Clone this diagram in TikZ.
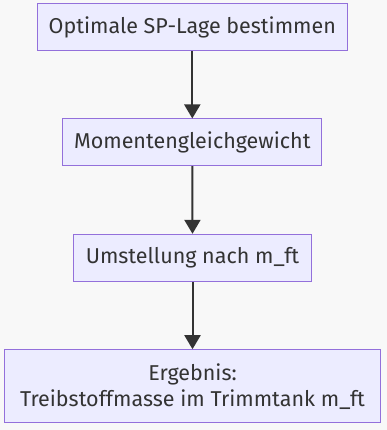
\documentclass[tikz,border=0pt]{standalone}
\usepackage{fontspec}
\setmainfont{Fira Sans}
\usetikzlibrary{arrows.meta}
\definecolor{bgc}{HTML}{F8F8F8}
\definecolor{boxfill}{HTML}{ECECFF}
\definecolor{boxline}{HTML}{9370DB}
\definecolor{ink}{HTML}{333333}
\tikzset{
  stepbox/.style={draw=boxline, fill=boxfill, line width=1pt, text=ink,
    inner sep=0pt, align=center, font=\fontsize{21.5}{26}\selectfont},
  flow/.style={draw=ink, line width=2pt, -{Triangle[width=16pt,length=14pt]}}
}
\begin{document}
\begin{tikzpicture}[x=1pt,y=-1pt]
  \fill[bgc] (0,0) rectangle (387,430);
  \useasboundingbox (0,0) rectangle (387,430);
  \node[stepbox, minimum width=310pt, minimum height=47pt] (a) at (192.3,27.3) {Optimale SP-Lage bestimmen};
  \node[stepbox, minimum width=259.3pt, minimum height=46.7pt] (b) at (192.3,142.3) {Momentengleichgewicht};
  \node[stepbox, minimum width=237.6pt, minimum height=47pt] (c) at (192.5,257.8) {Umstellung nach m\_ft};
  \node[stepbox, minimum width=376.4pt, minimum height=73pt] (d) at (192.5,386.2) {Ergebnis:\\Treibstoffmasse im Trimmtank m\_ft};
  \draw[flow] (a.south) -- (b.north);
  \draw[flow] (b.south) -- (c.north);
  \draw[flow] (c.south) -- (d.north);
\end{tikzpicture}
\end{document}
